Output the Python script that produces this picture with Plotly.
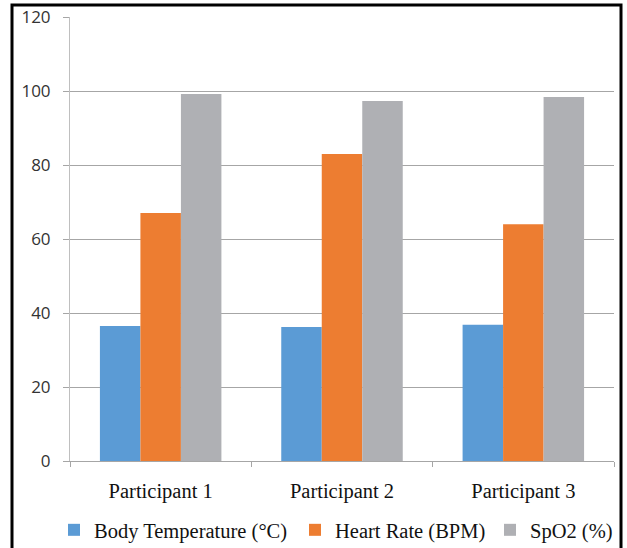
import plotly.graph_objects as go

categories = ["Participant 1", "Participant 2", "Participant 3"]
body_temp = [36.5, 36.2, 36.8]
heart_rate = [67, 83, 64]
spo2 = [99.2, 97.3, 98.4]
y_ticks = [0, 20, 40, 60, 80, 100, 120]

series_names = ["Body Temperature (°C)", "Heart Rate (BPM)", "SpO2 (%)"]
series_values = [body_temp, heart_rate, spo2]
series_colors = ["#5B9BD5", "#ED7D31", "#AFB0B4"]
legend_ids = ["legend", "legend2", "legend3"]
legend_left_px = [54, 295, 490]

L, R, T, B = 70, 13, 17, 87
W, H = 627, 548
pw, ph = W - L - R, H - T - B

def px_x(p):
    return (p - L) / pw

def px_y(p):
    return (H - B - p) / ph

fig = go.Figure()
for name, vals, color, lid in zip(series_names, series_values, series_colors, legend_ids):
    fig.add_trace(go.Bar(x=categories, y=vals, name=name, legend=lid,
                         marker=dict(color=color, line=dict(width=0))))

legend_font = dict(family="Liberation Serif", size=20.5, color="#111")
legends = {}
for lid, lx in zip(legend_ids, legend_left_px):
    legends[lid] = dict(orientation="h", xref="container", yref="container",
                        x=lx / W, xanchor="left", y=(H - 530) / H, yanchor="middle",
                        bgcolor="rgba(0,0,0,0)", borderwidth=0,
                        font=legend_font, itemwidth=30)

fig.update_layout(
    width=W, height=H,
    margin=dict(l=L, r=R, t=T, b=B, pad=0, autoexpand=False),
    paper_bgcolor="white", plot_bgcolor="white",
    barmode="group", bargap=0.33, bargroupgap=0,
    showlegend=True,
    **legends,
    xaxis=dict(showgrid=False, showline=True, linecolor="#A6A6A6", linewidth=1,
               ticks="outside", ticklen=5, tickcolor="#A6A6A6",
               tickson="boundaries", automargin=False,
               tickfont=dict(family="Liberation Serif", size=20.5, color="#111"),
               ticklabelstandoff=11),
    yaxis=dict(range=[0, 120], tickvals=y_ticks, showgrid=True, gridcolor="#A6A6A6",
               gridwidth=1, showline=True, linecolor="#BFBFBF", linewidth=1,
               ticks="outside", ticklen=6, tickcolor="#A6A6A6", zeroline=False,
               automargin=False,
               tickfont=dict(family="Open Sans", size=17, color="#333"),
               ticklabelstandoff=9),
    shapes=[dict(type="rect", xref="paper", yref="paper",
                 x0=px_x(12), x1=px_x(621), y0=px_y(600), y1=px_y(5),
                 line=dict(color="black", width=3), fillcolor="rgba(0,0,0,0)", layer="above")],
)

fig.write_html("out.html", config={"displayModeBar": False},
               post_script="document.body.style.margin='0';document.body.style.overflow='hidden';")
